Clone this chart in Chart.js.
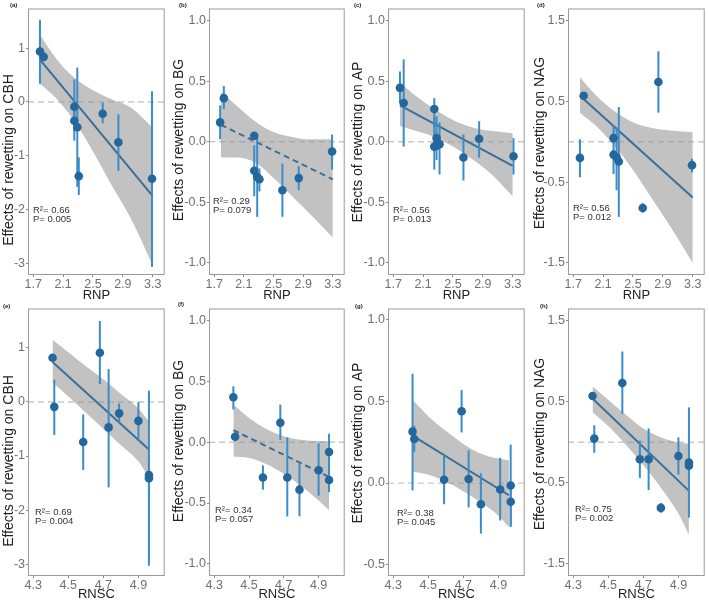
<!DOCTYPE html>
<html>
<head>
<meta charset="utf-8">
<script src="https://cdn.jsdelivr.net/npm/chart.js@4.4.0/dist/chart.umd.min.js"></script>
<style>
  body { margin: 0; background: #fff; width: 709px; height: 602px; position: relative; overflow: hidden; font-family: "Liberation Sans", Arial, sans-serif; }
  canvas { position: absolute; }
  .lab { position: absolute; font-size: 6px; font-weight: bold; color: #222; }
</style>
</head>
<body>
<div id="wrap"></div>
<script>
// 軸ラベル・目盛
const enzymes = ['CBH', 'BG', 'AP', 'NAG'];
const rnpTicks = ['1.7', '2.1', '2.5', '2.9', '3.3'];
const rnscTicks = ['4.3', '4.5', '4.7', '4.9'];
const cbhTicks = ['-3', '-2', '-1', '0', '1'];
const bgTicks = ['-1.0', '-0.5', '0.0', '0.5', '1.0'];
const apTicks = ['-1.0', '-0.5', '0.0', '0.5', '1.0'];
const apTicks2 = ['-0.5', '0.0', '0.5', '1.0'];
const nagTicks = ['-1.5', '-0.5', '0.5', '1.5'];
const r2 = ['0.66', '0.29', '0.56', '0.56', '0.69', '0.34', '0.38', '0.75'];
const pv = ['0.005', '0.079', '0.013', '0.012', '0.004', '0.057', '0.045', '0.002'];

// 回帰直線・信頼区間のx
const rnpFitX = [1.79, 3.3];
const rnscFitX = [4.41, 4.96];
const rnpBandX = [1.79, 2.0, 2.25, 2.5, 2.75, 3.0, 3.3];
const rnscBandX = [4.41, 4.5, 4.6, 4.7, 4.8, 4.9, 4.96];

// (a) RNP - CBH
const aX = [1.79, 1.84, 2.25, 2.25, 2.29, 2.31, 2.63, 2.84, 3.29];
const aY = [0.94, 0.84, -0.09, -0.35, -0.47, -1.38, -0.22, -0.75, -1.43];
const aLo = [0.34, 0.80, -0.72, -0.55, -1.58, -1.73, -0.40, -1.28, -3.07];
const aHi = [1.53, 0.88, 0.42, -0.10, 0.64, -1.03, -0.01, -0.23, 0.20];
const aFit = [0.79, -1.75];
const aBandHi = [1.25, 0.82, 0.45, 0.22, 0.05, -0.10, -0.48];
const aBandLo = [0.34, 0.08, -0.35, -0.92, -1.55, -2.15, -3.04];

// (b) RNP - BG
const bX = [1.78, 1.83, 2.24, 2.24, 2.28, 2.31, 2.62, 2.84, 3.29];
const bY = [0.16, 0.36, 0.05, -0.24, -0.29, -0.31, -0.40, -0.30, -0.08];
const bLo = [0.02, 0.27, 0.02, -0.45, -0.62, -0.41, -0.62, -0.40, -0.23];
const bHi = [0.30, 0.46, 0.08, -0.03, 0.04, -0.22, -0.18, -0.20, 0.06];
const bFit = [0.14, -0.31];
const bBandHi = [0.41, 0.30, 0.17, 0.08, 0.04, 0.02, 0.02];
const bBandLo = [-0.13, -0.13, -0.17, -0.30, -0.45, -0.60, -0.79];

// (c) RNP - AP
const cX = [1.79, 1.84, 2.25, 2.25, 2.28, 2.29, 2.32, 2.64, 2.85, 3.31];
const cY = [0.445, 0.32, 0.27, -0.04, 0.03, -0.03, -0.02, -0.13, 0.025, -0.12];
const cLo = [0.32, -0.04, 0.12, -0.23, -0.15, -0.06, -0.27, -0.32, -0.13, -0.27];
const cHi = [0.58, 0.68, 0.36, 0.20, 0.21, 0.00, 0.16, 0.06, 0.17, 0.03];
const cFit = [0.30, -0.20];
const cBandHi = [0.49, 0.38, 0.27, 0.18, 0.12, 0.09, 0.07];
const cBandLo = [0.13, 0.09, 0.04, -0.04, -0.14, -0.26, -0.45];

// (d) RNP - NAG
const dX = [1.79, 1.84, 2.24, 2.24, 2.28, 2.31, 2.63, 2.84, 3.29];
const dY = [-0.20, 0.57, 0.045, -0.16, -0.19, -0.245, -0.82, 0.74, -0.29];
const dLo = [-0.44, 0.54, -0.40, -0.22, -0.60, -0.93, -0.88, 0.36, -0.38];
const dHi = [0.03, 0.60, 0.20, -0.10, 0.18, 0.43, -0.76, 1.12, -0.21];
const dFit = [0.57, -0.69];
const dBandHi = [0.80, 0.58, 0.38, 0.24, 0.17, 0.14, 0.12];
const dBandLo = [0.36, 0.20, -0.05, -0.35, -0.70, -1.05, -1.50];

// (e) RNSC - CBH
const eX = [4.41, 4.42, 4.585, 4.68, 4.73, 4.79, 4.90, 4.96, 4.96];
const eY = [0.82, -0.09, -0.74, 0.91, -0.47, -0.21, -0.35, -1.35, -1.41];
const eLo = [0.78, -0.61, -1.26, 0.33, -1.58, -0.39, -0.72, -1.70, -3.03];
const eHi = [0.87, 0.41, -0.23, 1.50, 0.61, -0.03, 0.00, -1.00, 0.21];
const eFit = [0.74, -0.88];
const eBandHi = [1.15, 0.92, 0.66, 0.42, 0.15, -0.12, -0.36];
const eBandLo = [0.36, 0.10, -0.20, -0.50, -0.80, -1.10, -1.40];

// (f) RNSC - BG
const fX = [4.41, 4.42, 4.58, 4.68, 4.72, 4.79, 4.90, 4.96, 4.96];
const fY = [0.37, 0.045, -0.29, 0.16, -0.29, -0.39, -0.23, -0.08, -0.31];
const fLo = [0.27, 0.01, -0.39, 0.02, -0.61, -0.61, -0.44, -0.23, -0.41];
const fHi = [0.46, 0.08, -0.19, 0.31, 0.04, -0.16, -0.01, 0.07, -0.20];
const fFit = [0.10, -0.285];
const fBandHi = [0.31, 0.20, 0.11, 0.05, 0.02, 0.01, 0.01];
const fBandLo = [-0.12, -0.13, -0.18, -0.26, -0.36, -0.48, -0.56];

// (g) RNSC - AP
const gX = [4.41, 4.42, 4.59, 4.69, 4.73, 4.80, 4.91, 4.97, 4.97];
const gY = [0.315, 0.27, 0.02, 0.44, 0.025, -0.13, -0.04, -0.015, -0.115];
const gLo = [-0.045, 0.19, -0.13, 0.31, -0.15, -0.31, -0.23, -0.26, -0.27];
const gHi = [0.67, 0.35, 0.18, 0.57, 0.20, 0.06, 0.155, 0.235, -0.025];
const gFit = [0.29, -0.075];
const gBandHi = [0.51, 0.41, 0.32, 0.24, 0.18, 0.15, 0.14];
const gBandLo = [0.07, 0.05, 0.01, -0.05, -0.12, -0.20, -0.27];

// (h) RNSC - NAG
const hX = [4.41, 4.42, 4.58, 4.68, 4.73, 4.80, 4.90, 4.96, 4.96];
const hY = [0.57, 0.045, 0.73, -0.21, -0.21, -0.81, -0.17, -0.25, -0.29];
const hLo = [0.54, -0.13, 0.35, -0.44, -0.59, -0.87, -0.40, -0.93, -0.33];
const hHi = [0.60, 0.21, 1.12, 0.02, 0.17, -0.75, 0.06, 0.43, -0.25];
const hFit = [0.54, -0.60];
const hBandHi = [0.69, 0.52, 0.34, 0.17, 0.06, 0.00, -0.02];
const hBandLo = [0.37, 0.20, -0.03, -0.28, -0.56, -0.88, -1.14];

// パネル配置 (left: canvas左端, boxL/boxR: 枠, ttl: y軸タイトル中心, txt: R²位置)
const panels = [
  { tag: '(a)', x: aX, y: aY, lo: aLo, hi: aHi, fit: aFit, bh: aBandHi, bl: aBandLo, yt: cbhTicks, ymin: -3.22, ymax: 1.74, dash: false, left: 1, boxL: 28, boxR: 167, row: 0, ttl: [9, 160], txt: [5, 202], lab: [10, 2] },
  { tag: '(b)', x: bX, y: bY, lo: bLo, hi: bHi, fit: bFit, bh: bBandHi, bl: bBandLo, yt: bgTicks, ymin: -1.1, ymax: 1.1, dash: true, left: 170, boxL: 209, boxR: 347, row: 0, ttl: [179, 140], txt: [4, 193], lab: [179, 2] },
  { tag: '(c)', x: cX, y: cY, lo: cLo, hi: cHi, fit: cFit, bh: cBandHi, bl: cBandLo, yt: apTicks, ymin: -1.1, ymax: 1.1, dash: false, left: 350, boxL: 388, boxR: 527, row: 0, ttl: [358, 142], txt: [5, 202], lab: [354, 2] },
  { tag: '(d)', x: dX, y: dY, lo: dLo, hi: dHi, fit: dFit, bh: dBandHi, bl: dBandLo, yt: nagTicks, ymin: -1.65, ymax: 1.65, dash: false, left: 530, boxL: 568, boxR: 707, row: 0, ttl: [540, 143], txt: [5, 200], lab: [537, 2] },
  { tag: '(e)', x: eX, y: eY, lo: eLo, hi: eHi, fit: eFit, bh: eBandHi, bl: eBandLo, yt: cbhTicks, ymin: -3.22, ymax: 1.73, dash: false, left: 1, boxL: 28, boxR: 167, row: 1, ttl: [9, 461], txt: [7, 204], lab: [3, 303] },
  { tag: '(f)', x: fX, y: fY, lo: fLo, hi: fHi, fit: fFit, bh: fBandHi, bl: fBandLo, yt: bgTicks, ymin: -1.1, ymax: 1.1, dash: true, left: 170, boxL: 209, boxR: 347, row: 1, ttl: [179, 441], txt: [6, 202], lab: [178, 301] },
  { tag: '(g)', x: gX, y: gY, lo: gLo, hi: gHi, fit: gFit, bh: gBandHi, bl: gBandLo, yt: apTicks2, ymin: -0.57, ymax: 1.07, dash: false, left: 350, boxL: 388, boxR: 527, row: 1, ttl: [358, 443], txt: [9, 205], lab: [355, 303] },
  { tag: '(h)', x: hX, y: hY, lo: hLo, hi: hHi, fit: hFit, bh: hBandHi, bl: hBandLo, yt: nagTicks, ymin: -1.65, ymax: 1.65, dash: false, left: 530, boxL: 568, boxR: 707, row: 1, ttl: [540, 444], txt: [7, 201], lab: [540, 303] }
];

const FONT = '"Liberation Sans", Arial, sans-serif';

// 誤差棒・0線・枠線・y軸タイトル
const errPlugin = {
  id: 'err',
  beforeDatasetsDraw(chart) {
    const { ctx, chartArea: ca, scales: { y } } = chart;
    const y0 = y.getPixelForValue(0);
    ctx.save();
    ctx.strokeStyle = '#c9c9c9';
    ctx.lineWidth = 1.3;
    ctx.setLineDash([6, 4]);
    ctx.beginPath();
    ctx.moveTo(ca.left, y0);
    ctx.lineTo(ca.right, y0);
    ctx.stroke();
    ctx.restore();
  },
  beforeDatasetDraw(chart, args, opts) {
    if (args.index !== 0) return;
    const { ctx, scales: { x, y } } = chart;
    const p = opts.p;
    ctx.save();
    ctx.strokeStyle = '#3b8cc8';
    ctx.lineWidth = 2;
    p.x.forEach((v, i) => {
      const px = x.getPixelForValue(v);
      ctx.beginPath();
      ctx.moveTo(px, y.getPixelForValue(p.lo[i]));
      ctx.lineTo(px, y.getPixelForValue(p.hi[i]));
      ctx.stroke();
    });
    ctx.restore();
  },
  afterDraw(chart, args, opts) {
    const { ctx, chartArea: ca } = chart;
    const p = opts.p;
    const top = p.row === 0 ? 0 : 300;
    ctx.save();
    ctx.strokeStyle = '#9a9a9a';
    ctx.lineWidth = 1;
    ctx.strokeRect(ca.left + 0.5, ca.top + 0.5, ca.right - ca.left - 1, ca.bottom - ca.top - 1);
    ctx.fillStyle = '#333';
    ctx.font = '9.5px ' + FONT;
    ctx.textBaseline = 'middle';
    ctx.fillText('R²= ' + r2[opts.i], ca.left + p.txt[0], ca.top + p.txt[1]);
    ctx.fillText('P= ' + pv[opts.i], ca.left + p.txt[0], ca.top + p.txt[1] + 9);
    // y軸タイトル
    ctx.translate(p.ttl[0] - p.left, p.ttl[1] - top);
    ctx.rotate(-Math.PI / 2);
    ctx.fillStyle = '#222';
    ctx.font = '14px ' + FONT;
    ctx.textAlign = 'center';
    ctx.fillText('Effects of rewetting on ' + enzymes[opts.i % 4], 0, 0);
    ctx.restore();
  }
};

const wrap = document.getElementById('wrap');
panels.forEach((p, i) => {
  const cv = document.createElement('canvas');
  const w = p.boxR - p.left + 2;
  const top = p.row === 0 ? 0 : 300;
  cv.width = w;
  cv.height = p.row === 0 ? 303 : 302;
  cv.style.left = p.left + 'px';
  cv.style.top = top + 'px';
  wrap.appendChild(cv);

  const lab = document.createElement('div');
  lab.className = 'lab';
  lab.textContent = p.tag;
  lab.style.left = p.lab[0] + 'px';
  lab.style.top = p.lab[1] + 'px';
  wrap.appendChild(lab);

  const xTicks = p.row === 0 ? rnpTicks : rnscTicks;
  const fitX = p.row === 0 ? rnpFitX : rnscFitX;
  const bandX = p.row === 0 ? rnpBandX : rnscBandX;

  new Chart(cv, {
    type: 'scatter',
    data: {
      datasets: [
        {
          data: p.x.map((v, k) => ({ x: v, y: p.y[k] })),
          backgroundColor: '#23679d',
          borderWidth: 0,
          pointRadius: 4.3,
          order: 0
        },
        {
          type: 'line',
          data: fitX.map((v, k) => ({ x: v, y: p.fit[k] })),
          borderColor: '#3a6f98',
          borderWidth: 2,
          borderDash: p.dash ? [6, 4] : [],
          pointRadius: 0,
          fill: false,
          order: 1
        },
        {
          type: 'line',
          data: bandX.map((v, k) => ({ x: v, y: p.bh[k] })),
          borderColor: 'transparent',
          borderWidth: 0,
          backgroundColor: 'rgba(150,150,150,0.58)',
          pointRadius: 0,
          cubicInterpolationMode: 'monotone',
          fill: '+1',
          order: 2
        },
        {
          type: 'line',
          data: bandX.map((v, k) => ({ x: v, y: p.bl[k] })),
          borderColor: 'transparent',
          borderWidth: 0,
          pointRadius: 0,
          cubicInterpolationMode: 'monotone',
          fill: false,
          order: 3
        }
      ]
    },
    options: {
      responsive: false,
      animation: false,
      devicePixelRatio: 1,
      layout: { padding: { top: p.row === 0 ? 6 : 7, right: 2, left: 0, bottom: 0 } },
      plugins: {
        legend: { display: false },
        tooltip: { enabled: false },
        err: { p: p, i: i }
      },
      scales: {
        x: {
          type: 'linear',
          min: p.row === 0 ? 1.63 : 4.27,
          max: p.row === 0 ? 3.46 : 5.05,
          afterBuildTicks: s => { s.ticks = xTicks.map(t => ({ value: Number(t) })); },
          afterFit: s => { s.height = p.row === 0 ? 28 : 26; },
          ticks: {
            autoSkip: false, maxRotation: 0, padding: 0,
            color: '#707070',
            font: { family: FONT, size: 12.5 },
            callback: (v, k) => xTicks[k]
          },
          grid: { display: true, drawOnChartArea: false, drawTicks: true, tickLength: 2, color: '#8a8a8a' },
          border: { display: false },
          title: {
            display: true, text: p.row === 0 ? 'RNP' : 'RNSC', color: '#222', padding: 0,
            font: { family: FONT, size: 13 }
          }
        },
        y: {
          type: 'linear',
          min: p.ymin,
          max: p.ymax,
          afterBuildTicks: s => { s.ticks = p.yt.map(t => ({ value: Number(t) })); },
          afterFit: s => { s.width = p.boxL - p.left; },
          ticks: {
            autoSkip: false, padding: 1,
            color: '#707070',
            font: { family: FONT, size: 12.5 },
            callback: (v, k) => p.yt[k]
          },
          grid: { display: true, drawOnChartArea: false, drawTicks: true, tickLength: 2, color: '#8a8a8a' },
          border: { display: false },
          title: { display: false }
        }
      }
    },
    plugins: [errPlugin]
  });
});
</script>
</body>
</html>
